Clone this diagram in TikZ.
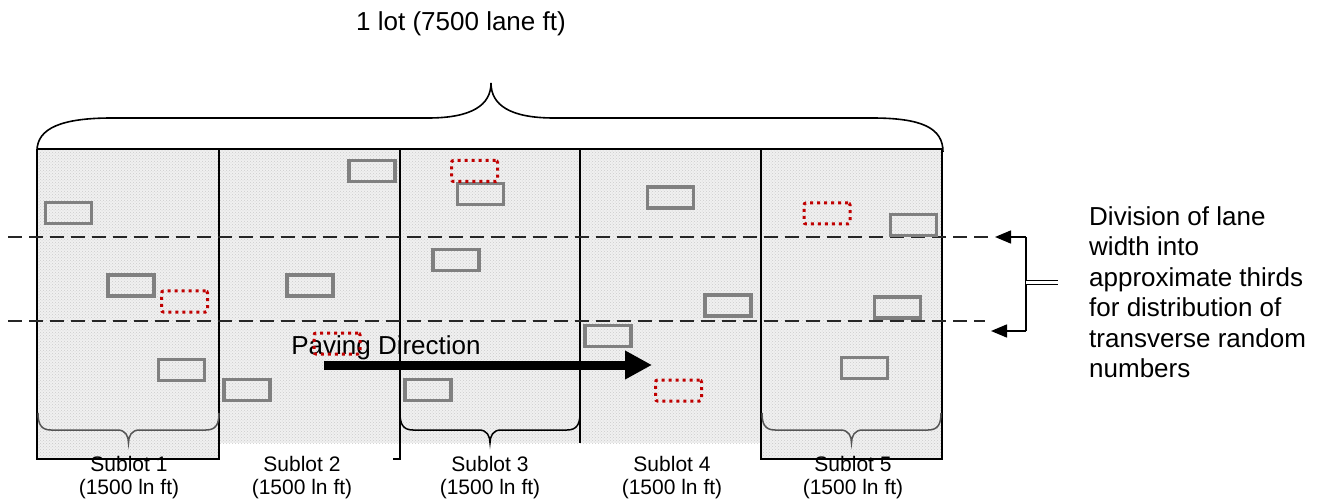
\documentclass[tikz,border=0pt]{standalone}
\usepackage{fontspec}
\setmainfont{Liberation Sans}
\usetikzlibrary{arrows.meta,patterns}
\definecolor{boxgray}{HTML}{808080}
\definecolor{dotred}{HTML}{C00000}
\definecolor{bracegray}{HTML}{555555}

% brace under a sublot: left x, right x, colour
\newcommand{\sublotbrace}[3]{%
  \draw[#3, line width=1.5pt] (#1,413) .. controls (#1,424) and ({#1+3},430) .. ({#1+13},430)
    -- ({(#1+#2)/2-11},430) .. controls ({(#1+#2)/2-3},430) and ({(#1+#2)/2},436) .. ({(#1+#2)/2},443)
    .. controls ({(#1+#2)/2},436) and ({(#1+#2)/2+3},430) .. ({(#1+#2)/2+11},430)
    -- ({#2-13},430) .. controls ({#2-3},430) and (#2,424) .. (#2,413);}

\tikzset{
  samplebox/.style={draw=boxgray, line width=3.3pt, minimum width=46pt, minimum height=21pt, inner sep=0pt},
  redbox/.style={draw=dotred, line width=3pt, dash pattern=on 3pt off 4pt, rounded corners=2pt,
                 minimum width=46pt, minimum height=21pt, inner sep=0pt},
  lanefill/.style={fill=black!6},
  lanetex/.style={pattern=crosshatch dots, pattern color=black!20},
  edge line/.style={line width=1.6pt, black},
  dashline/.style={line width=1.4pt, black!85, dash pattern=on 14pt off 7pt},
  bigtext/.style={font=\fontsize{26}{30.5}\selectfont, inner sep=0pt},
  sublabel/.style={font=\fontsize{21}{23}\selectfont, align=center, inner sep=0pt},
  pointer/.style={line width=1.5pt, -{Triangle[length=16pt,width=13pt]}},
}

\begin{document}
\begin{tikzpicture}[x=1pt,y=-1pt]
\useasboundingbox (0,0) rectangle (1329,502);

% textured pavement
\fill[lanefill] (37,149) rectangle (942,443);
\fill[lanefill] (37,443) rectangle (219,459);
\fill[lanefill] (761,443) rectangle (942,459);
\fill[lanetex] (37,149) rectangle (942,443);
\fill[lanetex] (37,443) rectangle (219,459);
\fill[lanetex] (761,443) rectangle (942,459);

% sublot outlines
\draw[edge line] (37,149) -- (942,149);
\draw[edge line] (37,149) -- (37,459) -- (219,459) -- (219,149);
\draw[edge line] (393,459) -- (400,459) -- (400,149);
\draw[edge line] (580,149) -- (580,443);
\draw[edge line] (761,149) -- (761,459) -- (942,459) -- (942,149);

% lane-width thirds
\coordinate (upL) at (8,237);
\coordinate (upR) at (990,237);
\coordinate (loL) at (8,321);
\coordinate (loR) at (985,321);
\draw[dashline] (upL) -- (upR);
\draw[dashline] (loL) -- (loR);

% braces
\draw[line width=1.6pt] (37,151) .. controls (37,128) and (62,118) .. (112,118) -- (428,118)
  .. controls (472,118) and (491,105) .. (491,83)
  .. controls (491,105) and (510,118) .. (554,118) -- (872,118)
  .. controls (922,118) and (943,128) .. (943,152);
\sublotbrace{38}{219}{bracegray}
\sublotbrace{400}{580}{black}
\sublotbrace{762}{941}{bracegray}

% labels
\node[bigtext] (lot) at (461,24) {1 lot (7500 lane ft)};
\node[sublabel] (s1) at (129,478) {Sublot 1\\(1500 ln ft)};
\node[sublabel] (s2) at (302,478) {Sublot 2\\(1500 ln ft)};
\node[sublabel] (s3) at (490,478) {Sublot 3\\(1500 ln ft)};
\node[sublabel] (s4) at (672,478) {Sublot 4\\(1500 ln ft)};
\node[sublabel] (s5) at (853,478) {Sublot 5\\(1500 ln ft)};

% paving direction
\node[bigtext] (pave) at (386,348) {Paving Direction};
\coordinate (paveS) at (324,365);
\coordinate (paveE) at (652,365);
\draw[line width=9pt, -{Triangle[length=27pt,width=27pt]}] (paveS) -- (paveE);

% sample locations
\node[samplebox] (g1) at (68.5,213) {};
\node[samplebox] (g2) at (131,285.5) {};
\node[samplebox] (g3) at (181.5,370) {};
\node[samplebox] (g4) at (372,171) {};
\node[samplebox] (g5) at (310,285.5) {};
\node[samplebox] (g6) at (247,390) {};
\node[samplebox] (g7) at (480.5,194) {};
\node[samplebox] (g8) at (456,260) {};
\node[samplebox] (g9) at (428,390) {};
\node[samplebox] (g10) at (670.5,197.5) {};
\node[samplebox] (g11) at (728,305.5) {};
\node[samplebox] (g12) at (608,336) {};
\node[samplebox] (g13) at (913.5,225) {};
\node[samplebox] (g14) at (897.5,307.5) {};
\node[samplebox] (g15) at (864.5,368) {};
\node[redbox] (r1) at (184.5,301.5) {};
\node[redbox] (r2) at (337,343.5) {};
\node[redbox] (r3) at (474.5,171) {};
\node[redbox] (r4) at (678.5,390.5) {};
\node[redbox] (r5) at (827,213.5) {};

% note on the right
\node[bigtext, anchor=north west, align=left] (note) at (1089,206)
  {Division of lane\\width into\\approximate thirds\\for distribution of\\transverse random\\numbers};
\coordinate (brTop) at (1026,237);
\coordinate (brBot) at (1026,331);
\coordinate (brMid) at (1026,282.5);
\coordinate (noteEnd) at (1058,282.5);
\coordinate (tipTop) at (995,237);
\coordinate (tipBot) at (991,331);
\draw[line width=1.5pt] (brTop) -- (brBot);
\draw[pointer] (brTop) -- (tipTop);
\draw[pointer] (brBot) -- (tipBot);
\draw[double, line width=1pt, double distance=3pt] (brMid) -- (noteEnd);
\end{tikzpicture}
\end{document}
